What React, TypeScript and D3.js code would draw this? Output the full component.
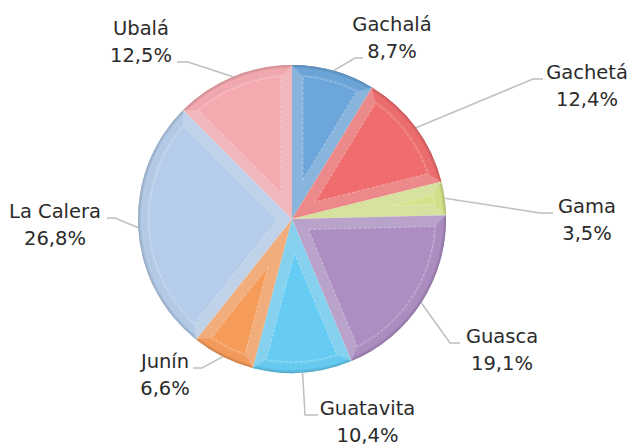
import React from "react";
import * as d3 from "d3";

const categories = ["Gachalá", "Gachetá", "Gama", "Guasca", "Guatavita", "Junín", "La Calera", "Ubalá"];
const values = [8.7, 12.4, 3.5, 19.1, 10.4, 6.6, 26.8, 12.5];
const valueLabels = ["8,7%", "12,4%", "3,5%", "19,1%", "10,4%", "6,6%", "26,8%", "12,5%"];
const colors = ["#6CA6DA", "#F06D6E", "#D4E38A", "#AD8EC3", "#66CCF3", "#F69C5B", "#B5CDEA", "#F5AAB0"];

// label layout: text centre x, first baseline y, leader elbow and end (absolute page coords)
const labelLayout = [
  { tx: 392, ty: 31, ex: 355, ey: 58, hx: 363 },
  { tx: 587, ty: 79, ex: 533, ey: 79, hx: 543 },
  { tx: 587, ty: 213, ex: 540, ey: 213, hx: 553 },
  { tx: 502, ty: 343, ex: 450, ey: 343, hx: 460 },
  { tx: 367.5, ty: 415, ex: 305, ey: 415, hx: 318 },
  { tx: 165, ty: 368, ex: 202, ey: 368, hx: 193 },
  { tx: 55, ty: 218, ex: 115, ey: 218, hx: 107 },
  { tx: 141, ty: 35, ex: 188, ey: 62, hx: 177 },
];

const W = 631;
const H = 445;
const CX = 292;
const CY = 219;
const R = 154;
const D = 11;

const pt = (r: number, a: number) => [r * Math.sin(a), -r * Math.cos(a)];

export default function App() {
  const pie = d3.pie<number>().sort(null).value((d) => d);
  const arcs = pie(values);
  const arcGen = d3.arc<d3.PieArcDatum<number>>().innerRadius(0).outerRadius(R);

  return (
    <svg width={W} height={H} style={{ position: "absolute", left: 0, top: 0, background: "#fff" }}
      fontFamily="'DejaVu Sans', sans-serif">
      <defs>
        <radialGradient id="rim" gradientUnits="userSpaceOnUse" cx={0} cy={0} r={R}>
          <stop offset={(R - D) / R} stopColor="#fff" stopOpacity={0.1} />
          <stop offset={(R - 4) / R} stopColor="#000" stopOpacity={0.0} />
          <stop offset={1} stopColor="#000" stopOpacity={0.18} />
        </radialGradient>
      </defs>
      <g transform={`translate(${CX},${CY})`}>
        {arcs.map((a, i) => {
          const a0 = a.startAngle;
          const a1 = a.endAngle;
          const th = a1 - a0;
          const phi = Math.asin(D / (R - D));
          const apex = pt(D / Math.sin(th / 2), (a0 + a1) / 2);
          const ri = R - D;
          const i0 = pt(ri, a0 + phi);
          const i1 = pt(ri, a1 - phi);
          const o0 = pt(R, a0);
          const o1 = pt(R, a1);
          const lgI = a1 - a0 - 2 * phi > Math.PI ? 1 : 0;
          const lgO = a1 - a0 > Math.PI ? 1 : 0;
          const inner = `M${apex[0]},${apex[1]}L${i0[0]},${i0[1]}A${ri},${ri} 0 ${lgI} 1 ${i1[0]},${i1[1]}Z`;
          const band = `M${o0[0]},${o0[1]}A${R},${R} 0 ${lgO} 1 ${o1[0]},${o1[1]}L${i1[0]},${i1[1]}A${ri},${ri} 0 ${lgI} 0 ${i0[0]},${i0[1]}Z`;
          const tint = d3.interpolateRgb(colors[i], "#E0E0E0")(0.25);
          const lineTint = d3.interpolateRgb(colors[i], "#FFFFFF")(0.55);
          return (
            <g key={categories[i]}>
              <path d={arcGen(a) || ""} fill={tint} />
              <path d={band} fill={colors[i]} />
              <path d={band} fill="url(#rim)" />
              <path d={inner} fill={colors[i]} />
              <path d={inner} fill="none" stroke={lineTint} strokeWidth={0.8} strokeDasharray="3,2" opacity={0.8} />
            </g>
          );
        })}
      </g>
      <g>
        {arcs.map((a, i) => {
          const mid = (a.startAngle + a.endAngle) / 2;
          const s = pt(R, mid);
          const L = labelLayout[i];
          return (
            <polyline key={"l" + i}
              points={`${CX + s[0]},${CY + s[1]} ${L.ex},${L.ey} ${L.hx},${L.ey}`}
              fill="none" stroke="#BFBFBF" strokeWidth={1.5} />
          );
        })}
      </g>
      <g fontSize={19.5} fill="#2b2b2b" textAnchor="middle">
        {categories.map((c, i) => {
          const L = labelLayout[i];
          return (
            <text key={"t" + i} x={L.tx} y={L.ty}>
              <tspan x={L.tx}>{c}</tspan>
              <tspan x={L.tx} dy={27}>{valueLabels[i]}</tspan>
            </text>
          );
        })}
      </g>
    </svg>
  );
}
